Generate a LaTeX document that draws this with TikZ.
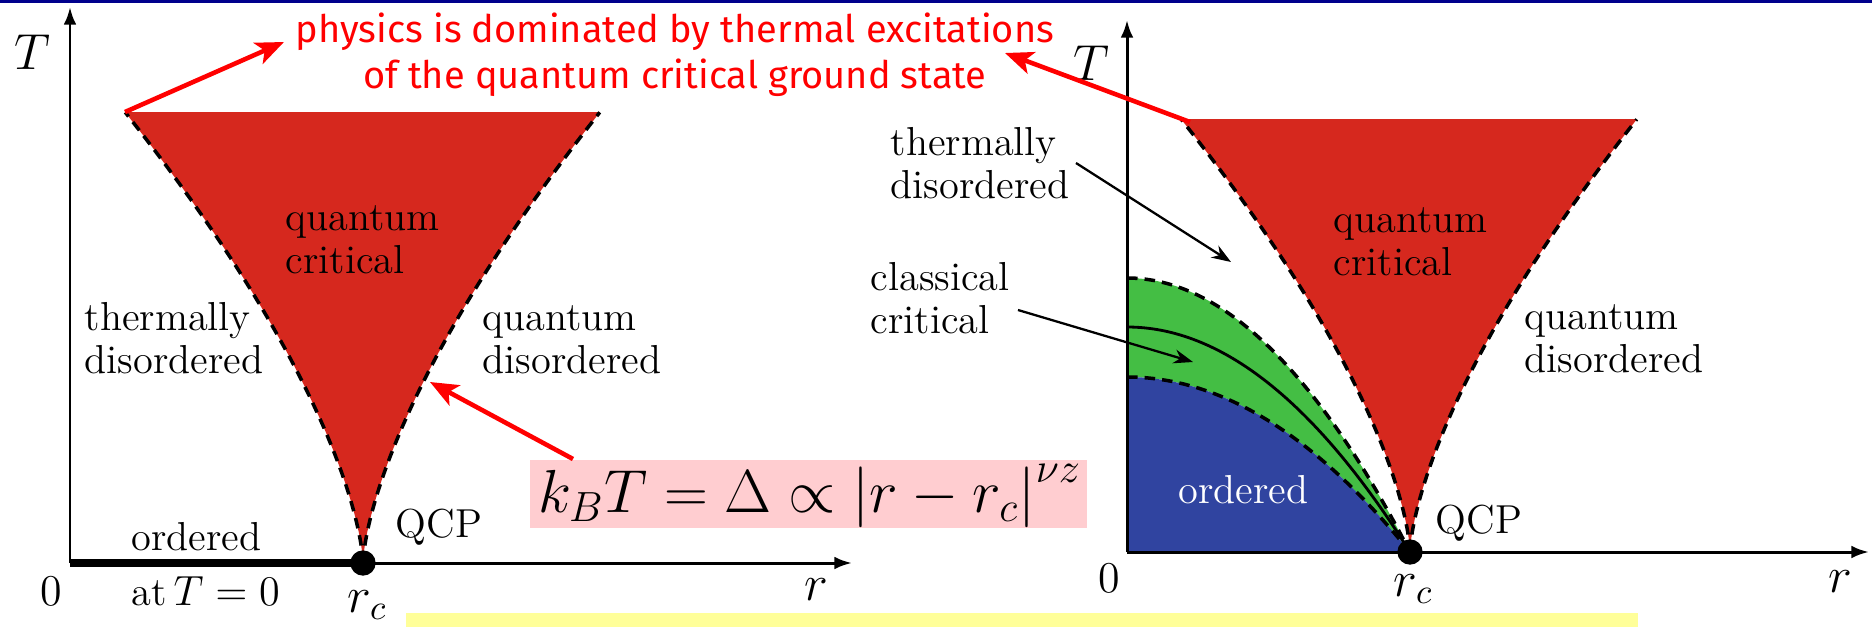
\documentclass[tikz,border=0pt]{standalone}
\usepackage{fontspec}
\newfontfamily\annfont{Fira Sans}
\usetikzlibrary{arrows.meta}
\definecolor{qcred}{RGB}{214,40,30}
\definecolor{qcgreen}{RGB}{68,190,68}
\definecolor{qcblue}{RGB}{48,68,160}
\definecolor{pinkbox}{RGB}{255,205,208}
\definecolor{yellowbox}{RGB}{255,255,153}
\definecolor{navybar}{RGB}{0,0,140}
\definecolor{annred}{RGB}{255,0,0}
\begin{document}
\begin{tikzpicture}[x=0.01cm,y=-0.01cm,
  lbl/.style={inner sep=0pt, font=\fontsize{11.5}{12.2}\selectfont, align=left, anchor=base west},
  axlbl/.style={inner sep=0pt, font=\fontsize{14.5}{16}\selectfont},
  axisarrow/.style={line width=0.85pt, -{Latex[length=5pt,width=3.6pt]}},
  critline/.style={draw=black, dash pattern=on 3pt off 2pt, line width=1pt},
  annarrow/.style={draw=annred, line width=1.3pt, -{Stealth[length=8pt,width=6.5pt,inset=2pt]}},
  blackarrow/.style={draw=black, line width=0.65pt, -{Stealth[length=5.5pt,width=4pt]}},
  anntext/.style={inner sep=0pt, text=annred, font=\annfont\fontsize{10.8}{12.8}\selectfont, align=center, anchor=base}
]
\useasboundingbox (0,0) rectangle (1872,627);
\fill[white] (0,0) rectangle (1872,627);
\fill[navybar] (0,0) rectangle (1872,3);

% ---------------- left diagram ----------------
\coordinate (L0) at (70,563);
\coordinate (LTtip) at (70,7);
\coordinate (Lrtip) at (852,563);
\coordinate (Lqcp) at (363,563);
\coordinate (Ltl) at (125,112);
\coordinate (Ltr) at (600,112);
\coordinate (Ledge) at (430,382);

\fill[qcred] (Ltl) -- (Ltr)
  -- plot[domain=1:0, samples=50] ({363+237*\x*\x*\x},{563-451*\x*\x})
  -- plot[domain=0:1, samples=50] ({363-238*\x*\x*\x},{563-451*\x*\x}) -- cycle;
\draw[critline] plot[domain=0:1, samples=50] ({363-238*\x*\x*\x},{563-451*\x*\x});
\draw[critline] plot[domain=0:1, samples=50] ({363+237*\x*\x*\x},{563-451*\x*\x});

\draw[axisarrow] (L0) -- (LTtip);
\draw[axisarrow] (L0) -- (Lrtip);
\draw[line width=2pt] (L0) -- (Lqcp);
\node[circle, fill=black, inner sep=0pt, minimum size=18\pgflinewidth] (LqcpDot) at (Lqcp) {};

\node[axlbl] (LT) at (32,52) {$T$};
\node[lbl] (Lqc) at (285,273) {quantum\\critical};
\node[lbl] (Ltd) at (84,373) {thermally\\disordered};
\node[lbl] (Lqd) at (482,373) {quantum\\disordered};
\node[lbl] (Lord) at (131,550) {ordered};
\node[lbl] (Lat) at (131,605) {at\,$T=0$};
\node[lbl, font=\fontsize{12.5}{14}\selectfont, anchor=base] (Lzero) at (51,605) {0};
\node[axlbl, anchor=base west] (Lrc) at (347,612) {$r_c$};
\node[axlbl, anchor=base west] (Lr) at (804,600) {$r$};
\node[lbl] (LQCP) at (395,537) {QCP};

% formula box
\fill[pinkbox] (530,460) rectangle (1087,528);
\node[inner sep=0pt, font=\fontsize{18}{20}\selectfont, anchor=base] (formula) at (810,512) {$k_BT=\Delta\propto\left|r-r_c\right|^{\nu z}$};
\coordinate (formtail) at (573,459);
\draw[annarrow] (formtail) -- (Ledge);

% ---------------- right diagram ----------------
\coordinate (R0) at (1127,552);
\coordinate (RTtip) at (1127,20);
\coordinate (Rrtip) at (1869,552);
\coordinate (Rqcp) at (1410,552);
\coordinate (Rtl) at (1181,119);
\coordinate (Rtr) at (1637,119);

\fill[qcred] (Rtl) -- (Rtr)
  -- plot[domain=1:0, samples=50] ({1410+227*\x*\x*\x},{552-433*\x*\x})
  -- plot[domain=0:1, samples=50] ({1410-229*\x*\x*\x},{552-433*\x*\x}) -- cycle;
\draw[critline] plot[domain=0:1, samples=50] ({1410-229*\x*\x*\x},{552-433*\x*\x});
\draw[critline] plot[domain=0:1, samples=50] ({1410+227*\x*\x*\x},{552-433*\x*\x});

\coordinate (Rg) at (1127,278);
\coordinate (Rs) at (1127,327);
\coordinate (Rb) at (1127,377);
\fill[qcgreen] (Rg) .. controls (1221.3,278) and (1315.7,369.3) .. (Rqcp)
  .. controls (1315.7,435.3) and (1221.3,377) .. (Rb) -- cycle;
\fill[qcblue] (Rb) .. controls (1221.3,377) and (1315.7,435.3) .. (Rqcp) -- (R0) -- cycle;
\draw[critline] (Rg) .. controls (1221.3,278) and (1315.7,369.3) .. (Rqcp);
\draw[critline] (Rb) .. controls (1221.3,377) and (1315.7,435.3) .. (Rqcp);
\draw[line width=0.8pt] (Rs) .. controls (1221.3,327) and (1315.7,402) .. (Rqcp);

\draw[axisarrow] (R0) -- (RTtip);
\draw[axisarrow] (R0) -- (Rrtip);
\node[circle, fill=black, inner sep=0pt, minimum size=18\pgflinewidth] (RqcpDot) at (Rqcp) {};

\node[axlbl] (RT) at (1091,63) {$T$};
\node[lbl] (Rtd) at (890,198) {thermally\\disordered};
\node[lbl] (Rcc) at (870,333) {classical\\critical};
\node[lbl] (Rqc) at (1333,275) {quantum\\critical};
\node[lbl] (Rqd) at (1524,372) {quantum\\disordered};
\node[lbl, text=white] (Rord) at (1178,503) {ordered};
\node[lbl] (RQCP) at (1435,533) {QCP};
\node[lbl, font=\fontsize{12.5}{14}\selectfont, anchor=base] (Rzero) at (1109,592) {0};
\node[axlbl, anchor=base west] (Rrc) at (1393,596) {$r_c$};
\node[axlbl, anchor=base west] (Rr) at (1828,592) {$r$};

\coordinate (tdtail) at (1076,163);
\coordinate (tdtip) at (1231,262);
\coordinate (cctail) at (1018,310);
\coordinate (cctip) at (1193,362);
\draw[blackarrow] (tdtail) -- (tdtip);
\draw[blackarrow] (cctail) -- (cctip);

% ---------------- annotation ----------------
\node[anntext] (ann) at (675,88) {physics is dominated by thermal excitations\\of the quantum critical ground state};
\coordinate (annL) at (284,42);
\coordinate (annR) at (1005,53);
\coordinate (RtlIn) at (1190,122);
\draw[annarrow] (Ltl) -- (annL);
\draw[annarrow] (RtlIn) -- (annR);

% ---------------- bottom box ----------------
\fill[yellowbox] (406,613) rectangle (1638,627);
\end{tikzpicture}
\end{document}
